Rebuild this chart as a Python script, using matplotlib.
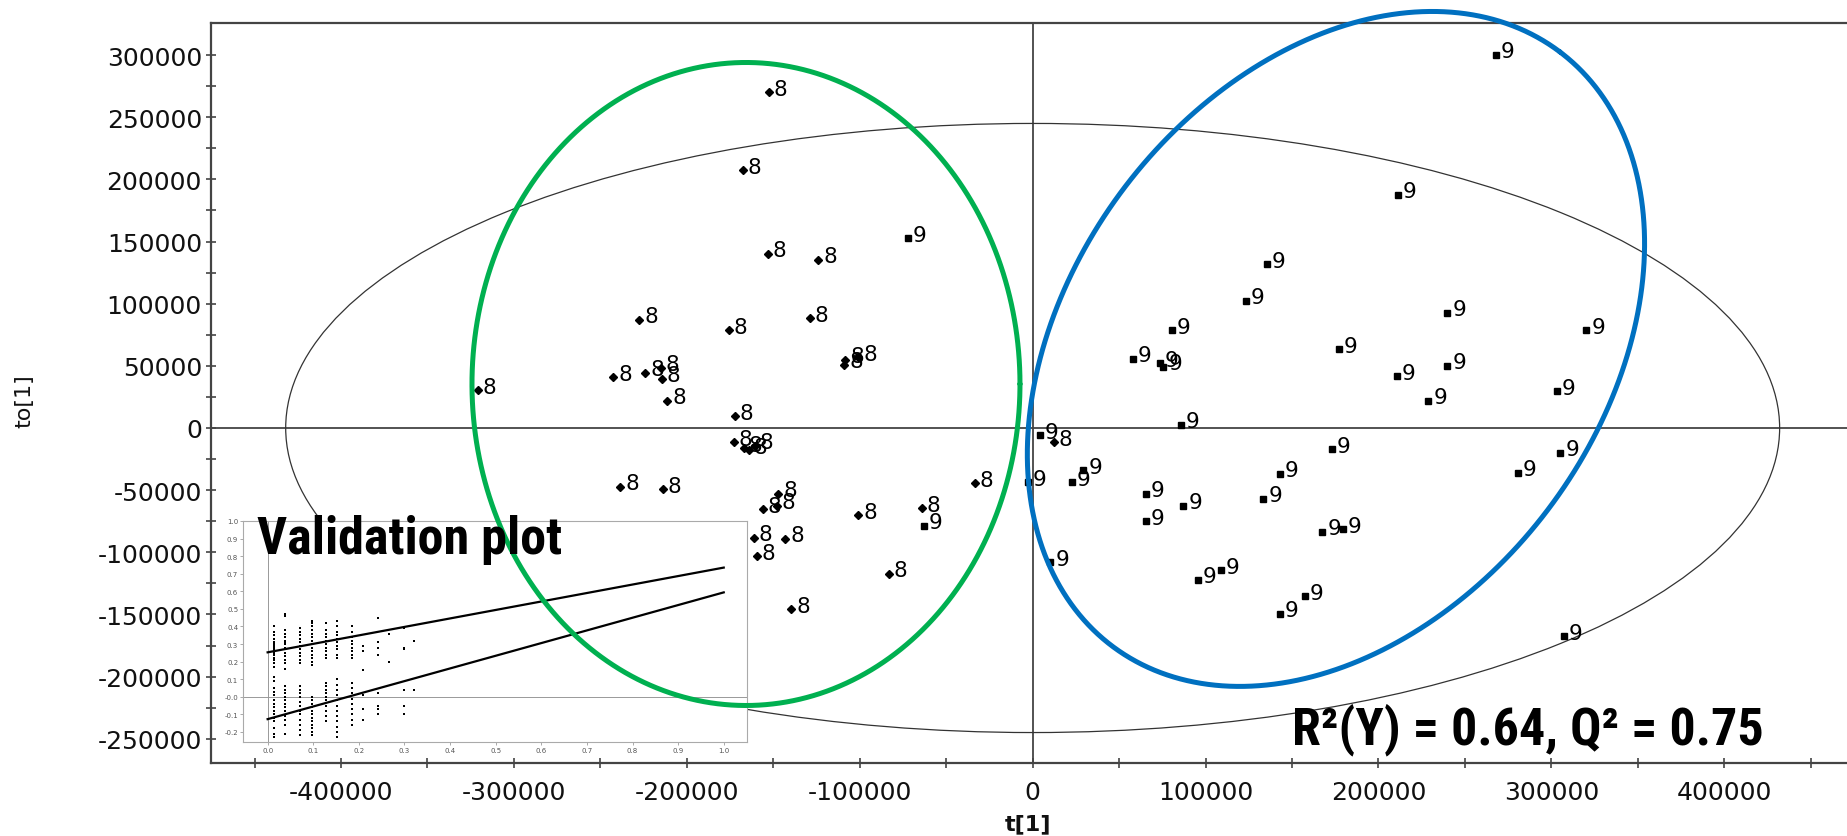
import numpy as np
import matplotlib
matplotlib.use("Agg")
import matplotlib.pyplot as plt
import matplotlib.font_manager as fm
from matplotlib.patches import Ellipse

# ---------------- data ----------------
class8_x = [-152600, -167600, -153300, -124000, -227500, -175800, -128700, -108300,
            -109000, -100800, -242500, -224100, -215200, -214600, -211200, -320800,
            -172300, -173000, -166900, -164200, -160800, -238400, -213900, -147100,
            -156000, -147800, -100800, -64000, -33400, -161400, -143000, -159400,
            -83100, -139600, 12300]
class8_y = [269900, 207400, 140200, 135400, 87100, 78600, 88100, 55000,
            51000, 57000, 40700, 44500, 48300, 39800, 21800, 30300,
            9500, -11400, -16100, -18000, -14200, -47400, -49200, -53000,
            -65300, -62500, -70000, -64400, -44500, -88100, -89000, -103200,
            -117400, -145800, -11400]

class9_x = [267700, 211200, 135600, 123300, 80400, 57900, 73600, 75600,
            239800, 239800, 177100, 210500, 228900, 320200, 303100, 85800,
            4100, -2700, 22500, 29300, 65400, 65400, 87200, 143100, 173000,
            133500, 280700, 305200, 167600, 179200, 95400, 109000, 143100,
            157400, 307200, 10200, -62700, -72200]
class9_y = [300200, 187500, 131600, 102300, 78600, 55900, 52100, 49200,
            92800, 50200, 63400, 41700, 21800, 78600, 29400, 2800,
            -5700, -43600, -43600, -34100, -53000, -74800, -62500, -36900, -17000,
            -56800, -36000, -19900, -83300, -81400, -122200, -114600, -149600,
            -135400, -167600, -108000, -78600, 152500]

y_tick_values = [-250000, -200000, -150000, -100000, -50000, 0,
                 50000, 100000, 150000, 200000, 250000, 300000]
x_tick_values = [-400000, -300000, -200000, -100000, 0,
                 100000, 200000, 300000, 400000]
x_label = "t[1]"
y_label = "to[1]"

# validation (permutation) plot
val_x_cols = [0.015, 0.039, 0.071, 0.097, 0.127, 0.152, 0.184, 0.208,
              0.242, 0.266, 0.298, 0.322]
val_r2_cols = [
    [0.40, 0.37, 0.35, 0.33, 0.31, 0.30, 0.29, 0.28, 0.27, 0.26, 0.25, 0.24, 0.22, 0.21, 0.19, 0.17],
    [0.47, 0.46, 0.38, 0.36, 0.34, 0.32, 0.31, 0.30, 0.28, 0.27, 0.25, 0.23, 0.21, 0.19, 0.16],
    [0.39, 0.37, 0.35, 0.33, 0.31, 0.29, 0.27, 0.25, 0.23, 0.21, 0.19],
    [0.43, 0.42, 0.40, 0.38, 0.36, 0.34, 0.32, 0.30, 0.28, 0.26, 0.24, 0.22, 0.20, 0.18],
    [0.42, 0.38, 0.36, 0.34, 0.32, 0.30, 0.28, 0.26, 0.24, 0.22],
    [0.43, 0.40, 0.37, 0.35, 0.33, 0.31, 0.29, 0.27, 0.24, 0.22],
    [0.40, 0.37, 0.34, 0.32, 0.30, 0.28, 0.26, 0.24, 0.22],
    [0.29, 0.26, 0.15],
    [0.45, 0.31, 0.28, 0.24],
    [0.36, 0.20],
    [0.39, 0.28, 0.27],
    [0.32],
]
val_q2_cols = [
    [0.11, 0.09, 0.05, 0.03, 0.01, -0.02, -0.04, -0.06, -0.08, -0.10, -0.12, -0.14, -0.18, -0.21, -0.23],
    [0.06, 0.04, 0.02, 0.00, -0.02, -0.04, -0.06, -0.08, -0.11, -0.13, -0.16, -0.21],
    [0.06, 0.04, 0.02, 0.00, -0.03, -0.05, -0.08, -0.10, -0.13, -0.16, -0.19, -0.22],
    [0.00, -0.02, -0.04, -0.06, -0.08, -0.10, -0.12, -0.14, -0.16, -0.18, -0.20, -0.22],
    [0.08, 0.06, 0.04, 0.02, 0.00, -0.02, -0.05, -0.08, -0.11, -0.14],
    [0.10, 0.07, 0.04, 0.01, -0.02, -0.05, -0.08, -0.11, -0.14, -0.17, -0.20, -0.23],
    [0.08, 0.05, 0.02, -0.01, -0.04, -0.07, -0.10, -0.13, -0.16],
    [0.01, -0.07, -0.13],
    [0.02, -0.05, -0.07, -0.10],
    [],
    [0.04, -0.05, -0.10],
    [0.04],
]
val_line_x = [0.0, 1.0]
val_r2_line = [0.253, 0.735]
val_q2_line = [-0.127, 0.594]
val_tick_x = [0.0, 0.1, 0.2, 0.3, 0.4, 0.5, 0.6, 0.7, 0.8, 0.9, 1.0]
val_tick_y = [-0.2, -0.1, 0.0, 0.1, 0.2, 0.3, 0.4, 0.5, 0.6, 0.7, 0.8, 0.9, 1.0]
val_tick_y_labels = ["-0.2", "-0.1", "-0.0", "0.1", "0.2", "0.3", "0.4", "0.5",
                     "0.6", "0.7", "0.8", "0.9", "1.0"]

stats_text = "R\u00b2(Y) = 0.64, Q\u00b2 = 0.75"
inset_title = "Validation plot"


# ---------------- font helper: a narrow bold face if available ----------------
def _is_bold(w):
    if isinstance(w, (int, float)):
        return w >= 600
    return str(w).lower() in ("bold", "heavy", "black", "semibold", "demibold", "extra bold")


def pick_narrow_bold():
    best, best_rank = None, 99
    for f in fm.fontManager.ttflist:
        if str(f.style).lower() != "normal" or not _is_bold(f.weight):
            continue
        st = str(f.stretch).lower()
        fname = f.fname.lower()
        narrow = ("narrow" in f.name.lower() or "condensed" in st
                  or "condensed" in fname or "narrow" in fname)
        if not narrow or "extra" in st or "ultra" in st or "extra" in fname:
            continue
        if "liberation" in f.name.lower():
            rank = 0
        elif "roboto" in f.name.lower() or "arimo" in f.name.lower():
            rank = 1
        elif "noto sans" in f.name.lower() and "semi" not in fname:
            rank = 2
        elif "dejavu" in f.name.lower():
            rank = 3
        else:
            rank = 4
        if rank < best_rank:
            best, best_rank = f, rank
    if best is not None:
        return fm.FontProperties(fname=best.fname)
    return fm.FontProperties(family="DejaVu Sans", weight="bold")


# ---------------- figure ----------------
W, H, DPI = 1847, 837, 100
fig = plt.figure(figsize=(W / DPI, H / DPI), dpi=DPI)
fig.patch.set_facecolor("white")

L, R, T, B = 211, 1847, 24, 764
ax = fig.add_axes([L / W, 1 - B / H, (R - L) / W, (B - T) / H])
ax.set_xlim(-475200, 470960)
ax.set_ylim(-269500, 325800)

axis_col = "#444444"
for s in ["left", "bottom", "top"]:
    ax.spines[s].set_color(axis_col)
    ax.spines[s].set_linewidth(1.6)
ax.spines["right"].set_visible(False)

ax.set_yticks(y_tick_values)
ax.set_yticklabels([str(v) for v in y_tick_values])
ax.set_xticks(x_tick_values)
ax.set_xticklabels([str(v) for v in x_tick_values])
ax.set_yticks(np.array(y_tick_values[:-1]) + 25000, minor=True)
ax.set_xticks([-450000, -350000, -250000, -150000, -50000,
               50000, 150000, 250000, 350000, 450000], minor=True)
ax.tick_params(axis="both", which="both", direction="inout", length=7,
               width=1.2, color=axis_col)
ax.tick_params(axis="y", which="major", labelsize=18, pad=3, labelcolor="#111111")
ax.tick_params(axis="x", which="major", labelsize=18, pad=9, labelcolor="#111111")

ax.set_xlabel(x_label, fontsize=16, fontweight="bold", color="#111111")
ax.xaxis.set_label_coords(0.4994, -0.068)
ax.set_ylabel(y_label, fontsize=16, color="#111111")
ax.yaxis.set_label_coords(-0.108, 0.49)

# zero lines
ax.axhline(0, color=axis_col, lw=1.3, zorder=1)
ax.axvline(0, color=axis_col, lw=1.3, zorder=1)

# Hotelling T2 ellipse
ax.add_patch(Ellipse((0, 0), 2 * 432000, 2 * 245000, fill=False,
                     ec="#333333", lw=0.9, zorder=1))

# points
ax.plot(class8_x, class8_y, "D", color="black", ms=4.2, zorder=3)
ax.plot(class9_x, class9_y, "s", color="black", ms=4.2, zorder=3)
for x, y in zip(class8_x, class8_y):
    ax.annotate("8", (x, y), xytext=(3.5, 2.5), textcoords="offset points",
                fontsize=15.5, va="center", ha="left", zorder=3)
for x, y in zip(class9_x, class9_y):
    ax.annotate("9", (x, y), xytext=(3.5, 2.5), textcoords="offset points",
                fontsize=15.5, va="center", ha="left", zorder=3)

# ---------------- inset validation plot ----------------
iL, iR, iT, iB = 243, 747, 522, 743
axi = fig.add_axes([iL / W, 1 - iB / H, (iR - iL) / W, (iB - iT) / H])
axi.set_zorder(2)
axi.set_facecolor("white")
axi.set_xlim(-0.054, 1.051)
axi.set_ylim(-0.257, 1.0)
for s in axi.spines.values():
    s.set_color("#aaaaaa")
    s.set_linewidth(0.8)
axi.axhline(0, color="#999999", lw=0.7)
axi.axvline(0, color="#999999", lw=0.7)
vx_r2, vy_r2, vx_q2, vy_q2 = [], [], [], []
for cx, r2s, q2s in zip(val_x_cols, val_r2_cols, val_q2_cols):
    vx_r2 += [cx] * len(r2s)
    vy_r2 += r2s
    vx_q2 += [cx] * len(q2s)
    vy_q2 += q2s
axi.plot(vx_r2, vy_r2, "s", color="black", ms=2.0, mew=0)
axi.plot(vx_q2, vy_q2, "s", color="black", ms=2.0, mew=0)
axi.plot(val_line_x, val_r2_line, color="black", lw=1.6)
axi.plot(val_line_x, val_q2_line, color="black", lw=1.6)
axi.set_xticks(val_tick_x)
axi.set_xticklabels(["%.1f" % v for v in val_tick_x])
axi.set_yticks(val_tick_y)
axi.set_yticklabels(val_tick_y_labels)
axi.tick_params(axis="both", labelsize=5, length=2, width=0.5, color="#888888",
                labelcolor="#555555", pad=1.5)

# ---------------- overlay: hand-drawn ellipses & texts ----------------
axo = fig.add_axes(ax.get_position())
axo.set_zorder(3)
axo.set_xlim(ax.get_xlim())
axo.set_ylim(ax.get_ylim())
axo.axis("off")
axo.patch.set_alpha(0)

fig.canvas.draw()
p0 = axo.transData.transform((0, 0))
p1 = axo.transData.transform((100000, 100000))
sx = (p1[0] - p0[0]) / 100000.0
sy = (p1[1] - p0[1]) / 100000.0


def hand_ellipse(cx, cy, a_px, b_px, ang_deg, color):
    t = np.linspace(0, 2 * np.pi, 500)
    ph = np.deg2rad(ang_deg)
    px = a_px * np.cos(t) * np.cos(ph) - b_px * np.sin(t) * np.sin(ph)
    py = a_px * np.cos(t) * np.sin(ph) + b_px * np.sin(t) * np.cos(ph)
    axo.plot(cx + px / sx, cy + py / sy, color=color, lw=3.6,
             solid_capstyle="round", clip_on=False)


hand_ellipse(-165800, 35400, 274, 321.5, 0, "#00B050")
hand_ellipse(175400, 63600, 372, 266, 53, "#0070C0")

narrow_fp = pick_narrow_bold()


def fitted_text(x_px, y_px, s, target_w_px, base_size):
    fp = narrow_fp.copy()
    fp.set_size(base_size)
    t = fig.text(x_px / W, 1 - y_px / H, s, fontproperties=fp,
                 va="center", ha="left", zorder=10)
    r = fig.canvas.get_renderer()
    w = t.get_window_extent(renderer=r).width
    fp.set_size(base_size * target_w_px / w)
    t.set_fontproperties(fp)
    return t


fitted_text(257, 540, inset_title, 305, 34)
fitted_text(1292, 730, stats_text, 472, 36)

fig.savefig("out.png", dpi=DPI)
